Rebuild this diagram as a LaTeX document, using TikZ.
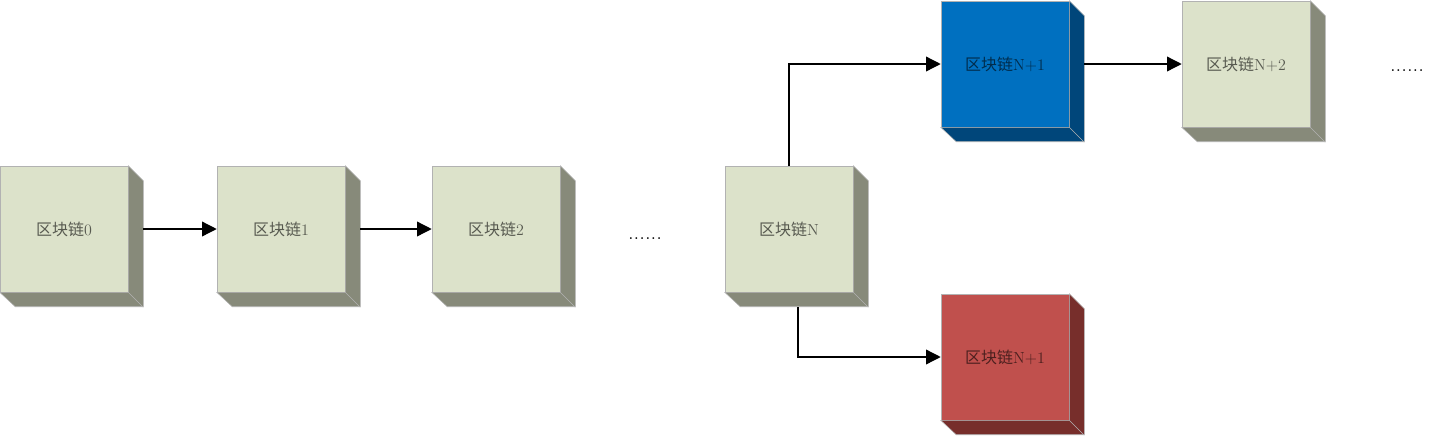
\documentclass[tikz,border=0pt]{standalone}
\usepackage{fontspec}
\newfontfamily\cjk{Noto Sans CJK SC}
\usetikzlibrary{arrows.meta,calc}

\definecolor{facegreen}{HTML}{DCE2CA}
\definecolor{sidegreen}{HTML}{878A7A}
\definecolor{faceblue}{HTML}{0070C0}
\definecolor{sideblue}{HTML}{00467A}
\definecolor{facered}{HTML}{C0504D}
\definecolor{sidered}{HTML}{772E2B}

\tikzset{
  blockface/.style={draw=black!30, line width=0.4pt, minimum width=96pt,
    minimum height=94.5pt, inner sep=0pt, text=black, text opacity=0.6,
    font=\fontsize{12pt}{14pt}\selectfont},
  dotsnode/.style={anchor=base, font=\fontsize{17pt}{20pt}\selectfont},
  link/.style={line width=1pt, -{Triangle[length=11pt,width=11pt]}}
}

% block: name, left x, top y, face colour, side colour, label
\newcommand{\chainblock}[6]{
  \node[blockface, fill=#4] (#1) at (#2+64,#3+63) {#6};
  \filldraw[fill=#5, draw=black!30, line width=0.4pt] (#1.north east) -- ++(15,15) -- ++(0,126)
    -- ++(-128,0) -- (#1.south west) -- (#1.south east) -- cycle;
  \draw[black!30, line width=0.4pt] (#1.south east) -- ++(15,15);
}

\begin{document}
\begin{tikzpicture}[x=0.75pt,y=-0.75pt]
  \useasboundingbox (0,0) rectangle (1440,436);

  % the chain
  \chainblock{b0}{0}{166}{facegreen}{sidegreen}{{\cjk 区块链}0}
  \chainblock{b1}{217}{166}{facegreen}{sidegreen}{{\cjk 区块链}1}
  \chainblock{b2}{432}{166}{facegreen}{sidegreen}{{\cjk 区块链}2}
  \chainblock{bN}{725}{166}{facegreen}{sidegreen}{{\cjk 区块链}N}

  % the fork
  \chainblock{bUp}{941}{1}{faceblue}{sideblue}{{\cjk 区块链}N+1}
  \chainblock{bNext}{1182}{1}{facegreen}{sidegreen}{{\cjk 区块链}N+2}
  \chainblock{bDown}{941}{294}{facered}{sidered}{{\cjk 区块链}N+1}

  \node[dotsnode] (dots1) at (645,239) {......};
  \node[dotsnode] (dots2) at (1407,71) {......};

  % links
  \draw[link, shorten <=11.25pt] (b0) -- (b1);
  \draw[link, shorten <=11.25pt] (b1) -- (b2);
  \draw[link, shorten <=11.25pt] (bUp) -- (bNext);
  \draw[link] (bN.north) |- (bUp.west);
  \draw[link] ($(bN.south)+(9,15)$) |- (bDown.west);
\end{tikzpicture}
\end{document}
